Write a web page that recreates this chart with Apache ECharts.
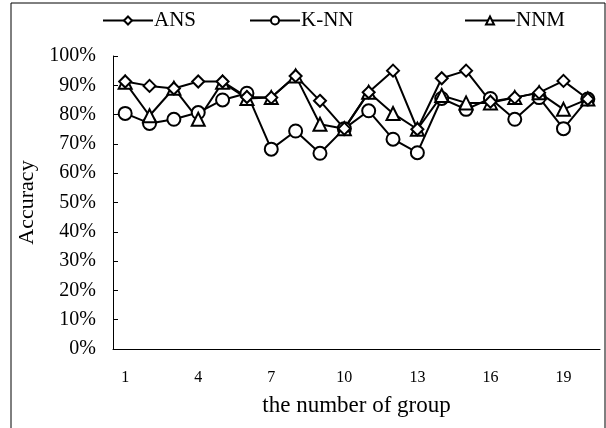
<!DOCTYPE html>
<html>
<head>
<meta charset="utf-8">
<script src="https://cdn.jsdelivr.net/npm/echarts@6/dist/echarts.min.js"></script>
<style>
  html, body { margin: 0; padding: 0; background: #fff; }
  #chart { width: 606px; height: 428px; }
</style>
</head>
<body>
<div id="chart"></div>
<script>
// data
const groups = ['1','2','3','4','5','6','7','8','9','10','11','12','13','14','15','16','17','18','19','20'];
const ansAcc = [91.3, 89.8, 88.9, 91.3, 91.3, 86, 85.8, 93.2, 84.7, 75.2, 87.6, 95, 75, 92.4, 95, 84.4, 85.8, 87.5, 91.5, 85.3];
const knnAcc = [80.4, 77, 78.4, 80.7, 85, 87.3, 68.2, 74.4, 66.8, 75.2, 81.3, 71.6, 67, 85.5, 81.8, 85.5, 78.4, 85.8, 75.2, 85.3];
const nnmAcc = [91, 79.6, 89, 78.4, 91, 85.5, 85.8, 93.2, 76.7, 75.2, 87.6, 80.4, 75, 86.5, 84, 84, 85.8, 87.5, 81.8, 85.3];

const font = '"Liberation Serif", "Times New Roman", serif';
const chart = echarts.init(document.getElementById('chart'));

function lineSeries(name, data, symbol, size) {
  return {
    name: name,
    type: 'line',
    data: data,
    symbol: symbol,
    symbolSize: size,
    showAllSymbol: true,
    lineStyle: { color: '#000', width: 2 },
    itemStyle: { color: '#fff', borderColor: '#000', borderWidth: 2 },
    emphasis: { disabled: true },
    animation: false
  };
}

function legendAt(name, left) {
  return {
    data: [name],
    left: left,
    top: 5,
    itemWidth: 50,
    itemHeight: 10,
    itemGap: 4,
    textStyle: { fontFamily: font, fontSize: 21, color: '#000', padding: [0, 0, 0, -4] }
  };
}

const option = {
  backgroundColor: '#fff',
  legend: [legendAt('ANS', 97), legendAt('K-NN', 244), legendAt('NNM', 459)],
  grid: { left: 113, right: 6, top: 56, bottom: 79 },
  xAxis: {
    type: 'category',
    data: groups,
    boundaryGap: true,
    name: 'the number of group',
    nameLocation: 'middle',
    nameGap: 45,
    nameTextStyle: { fontFamily: font, fontSize: 23, color: '#000' },
    axisLine: { lineStyle: { color: '#000', width: 1 } },
    axisTick: { inside: true, length: 5, interval: 0, lineStyle: { color: '#000' } },
    axisLabel: { interval: 2, fontFamily: font, fontSize: 16, color: '#000', margin: 21 },
    splitLine: { show: false }
  },
  yAxis: {
    type: 'value',
    min: 0,
    max: 100,
    interval: 10,
    name: 'Accuracy',
    nameLocation: 'middle',
    nameGap: 74,
    nameTextStyle: { fontFamily: font, fontSize: 22, color: '#000' },
    axisLine: { show: true, lineStyle: { color: '#000', width: 1 } },
    axisTick: { show: true, inside: true, length: 5, lineStyle: { color: '#000' } },
    axisLabel: { formatter: '{value}%', fontFamily: font, fontSize: 20, color: '#000', margin: 17 },
    splitLine: { show: false }
  },
  graphic: [{
    type: 'rect',
    shape: { x: 11, y: 3, width: 594, height: 440 },
    style: { fill: 'none', stroke: '#000', lineWidth: 1 },
    silent: true
  }],
  series: [
    lineSeries('K-NN', knnAcc, 'circle', 13),
    lineSeries('NNM', nnmAcc, 'triangle', 13),
    lineSeries('ANS', ansAcc, 'diamond', 12)
  ]
};
chart.setOption(option);
</script>
</body>
</html>
